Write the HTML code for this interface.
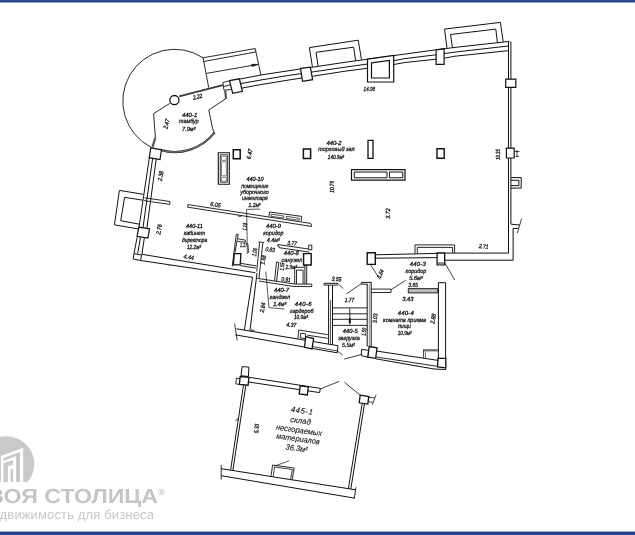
<!DOCTYPE html>
<html><head><meta charset="utf-8"><title>plan</title>
<style>
html,body{margin:0;padding:0;background:#fff;}
body{width:635px;height:535px;overflow:hidden;position:relative;font-family:"Liberation Sans",sans-serif;}
svg{position:absolute;left:0;top:0;filter:grayscale(1);}
svg text{text-rendering:geometricPrecision;font-family:"Liberation Sans",sans-serif;font-style:italic;text-anchor:middle;dominant-baseline:central;stroke:#151515;stroke-width:3.0px;}
svg text.logo{font-style:normal;text-anchor:start;dominant-baseline:alphabetic;stroke:none;}
.bt{position:absolute;left:0;top:0;width:635px;height:3.4px;background:linear-gradient(to bottom,#2d5297 0%,#21427f 65%,#ffffff 100%);}
.bb{position:absolute;left:0;top:531px;width:635px;height:4px;background:linear-gradient(to bottom,#ffffff 0%,#1f3d7b 30%,#2d5297 100%);}
</style></head><body>
<svg width="635" height="535" viewBox="0 0 635 535">
<g id="logo">
<clipPath id="lc"><rect x="-5" y="430" width="60" height="52.2"/></clipPath>
<circle cx="6.6" cy="464" r="27.7" fill="#c9c9c9" clip-path="url(#lc)"/>
<polygon points="0.9,455.9 23.2,447.8 23.2,482.5 0.9,482.5" fill="#fff"/>
<polygon points="3.5,458 20,451.9 20,482.5 16.1,482.5 16.1,455.9 3.5,460.9" fill="#c9c9c9"/>
<polygon points="3.7,463 13,460.1 13,464.4 7.9,466.2 7.9,482.5 3.5,482.5 3.5,463" fill="#c9c9c9"/>
<rect x="10.6" y="469.1" width="2.4" height="13.4" fill="#c9c9c9"/>
<rect x="-5" y="482.1" width="45" height="4" fill="#fff"/>
<text class="logo" x="0" y="0" font-size="20.3" font-weight="bold" fill="#c5c5c5" transform="translate(-12.5 502.8) scale(1.14 1)">ВОЯ СТОЛИЦА</text>
<text class="logo" x="158.3" y="494.8" font-size="8.8" font-weight="bold" fill="#c8c8c8">®</text>
<text class="logo" x="-0.4" y="518.5" font-size="13" fill="#c6c6c6" letter-spacing="0.14">движимость для бизнеса</text>
</g>
<polyline points="239.2,79.2 262,74.8 285,71.3 345,62.3 367.5,59.2 393.7,55.6 436,49.8 455,47.4 509.5,41.4" fill="none" stroke="#111" stroke-width="1" />
<polyline points="240.5,83.6 262,79.8 285,76 345,67.2 367.5,64 393.7,60.7 405,58.6 436,54.8 444,53.6 455,52.1 508.3,46" fill="none" stroke="#111" stroke-width="1" />
<polyline points="242,88.1 262,84.4 285,80.6 345,71.2 367.5,68.3 393.7,64.5 405,62.5 436,59.2 444,58.2 455,56.2 508.3,50.7" fill="none" stroke="#111" stroke-width="1" />
<polyline points="312.4,66.9 309.4,47.6 358.2,40.2 361.5,59.6" fill="none" stroke="#111" stroke-width="1" />
<polyline points="318.1,65.9 316,52.3 353.7,47.2 355.6,60.7" fill="none" stroke="#111" stroke-width="1" />
<polyline points="447,48.3 444.5,29.1 500.4,22.4 503.2,41.8" fill="none" stroke="#111" stroke-width="1" />
<polyline points="452.4,47.5 450.5,34.5 495.8,29.1 497.4,42.6" fill="none" stroke="#111" stroke-width="1" />
<polygon points="229.5,80.6 239.3,78.8 242.4,91.4 232.7,93.4" fill="#fff" stroke="#111" stroke-width="1.2"/>
<polygon points="300.6,68.4 310.3,67.2 312.6,79.7 302.5,81.4" fill="#fff" stroke="#111" stroke-width="1.2"/>
<polygon points="367.5,59.2 393.7,55.5 393.7,82 367.5,82" fill="#fff" stroke="#111" stroke-width="1.2"/>
<polygon points="371.5,62.9 389.4,60.4 389.4,78 371.5,78" fill="#fff" stroke="#111" stroke-width="1.2"/>
<polygon points="436.1,49.8 444.1,48.8 444.1,64.4 436.1,64.4" fill="#fff" stroke="#111" stroke-width="1.2"/>
<polyline points="508.5,41.6 508.5,253.2" fill="none" stroke="#111" stroke-width="1" />
<polyline points="510.9,41.6 510.9,224" fill="none" stroke="#111" stroke-width="1" />
<polyline points="510.9,224.2 519.8,225" fill="none" stroke="#111" stroke-width="1" />
<polyline points="521.6,218.6 517.4,233" fill="none" stroke="#111" stroke-width="0.8" />
<polyline points="518.5,228.4 513.1,228.4 513.1,260.2 444.8,260.2" fill="none" stroke="#111" stroke-width="1" />
<polyline points="508.5,253.1 444.7,253.1" fill="none" stroke="#111" stroke-width="1" />
<polygon points="505.7,79.1 515.8,79.1 515.8,87.4 505.7,87.4" fill="#fff" stroke="#111" stroke-width="1.2"/>
<polygon points="506.4,148.2 514.2,148.2 514.2,158 506.4,158" fill="#fff" stroke="#111" stroke-width="1.2"/>
<polyline points="514.2,151.5 519.5,151.5" fill="none" stroke="#111" stroke-width="0.8" />
<polyline points="517,150 517,156.5" fill="none" stroke="#111" stroke-width="0.8" />
<polyline points="515.5,156.5 519,156.5" fill="none" stroke="#111" stroke-width="0.8" />
<polyline points="510.9,177.6 521.2,177.6 521.2,188.1 510.9,188.1" fill="none" stroke="#111" stroke-width="1" />
<polyline points="510.9,180.3 518.9,180.3 518.9,185.6 510.9,185.6" fill="none" stroke="#111" stroke-width="1" />
<polyline points="208.7,87.6 203.1,57.8 255.2,48.5 260.9,75.1" fill="none" stroke="#111" stroke-width="0.9" />
<polyline points="203.6,61.5 256.3,51.9" fill="none" stroke="#111" stroke-width="0.9" />
<polyline points="206.4,73.4 258,64.4" fill="none" stroke="#111" stroke-width="0.9" />
<polygon points="258,64.4 251.6,64.2 252.1,66.6" fill="#111" stroke="#111" stroke-width="0.5"/>
<path d="M203.08,57.83 A51.8,51.8 0 1 0 151.24,147.33" fill="none" stroke="#111" stroke-width="0.9"/>
<path d="M160.09,149.89 A50.9,50.9 0 0 0 214.72,132.42" fill="none" stroke="#333" stroke-width="2.2"/>
<path d="M160.09,149.89 A50.9,50.9 0 0 0 214.72,132.42" fill="none" stroke="#aaa" stroke-width="0.6"/>
<circle cx="174.4" cy="100.1" r="4.6" fill="#fff" stroke="#111" stroke-width="1.3"/>
<polyline points="179.2,96.4 222.8,85.2" fill="none" stroke="#3a3a3a" stroke-width="1.9" />
<polyline points="229.7,80.8 222.9,82.5 224,90.3 232,89.3" fill="none" stroke="#111" stroke-width="0.9" />
<polyline points="223.4,86.5 230.8,84.8" fill="none" stroke="#111" stroke-width="0.9" />
<polyline points="225.3,90.5 226,98.8" fill="none" stroke="#555" stroke-width="2.2" />
<polyline points="225.6,98.8 208.8,110 212.5,128 214,132.5" fill="none" stroke="#111" stroke-width="0.9" />
<polyline points="169.8,103.4 153.6,113.6 155.4,137.6" fill="none" stroke="#111" stroke-width="0.9" />
<polyline points="155.4,137.6 152.4,147.4" fill="none" stroke="#555" stroke-width="2.2" />
<polygon points="150.8,147.9 161.5,149.8 160,159.6 149.2,157.7" fill="#fff" stroke="#111" stroke-width="1.2"/>
<polyline points="149.3,158 139,227.2" fill="none" stroke="#111" stroke-width="1" />
<polyline points="152.6,158.6 143,227.7" fill="none" stroke="#111" stroke-width="1" />
<polyline points="156.2,159.2 146.9,228.1" fill="none" stroke="#111" stroke-width="1" />
<polyline points="137.1,237.3 134,253.7" fill="none" stroke="#111" stroke-width="1" />
<polyline points="140.3,238 137.7,253.7" fill="none" stroke="#111" stroke-width="1" />
<polyline points="144.3,238.2 141.9,254.3" fill="none" stroke="#111" stroke-width="1" />
<polyline points="143.4,194.3 119.4,190.4 114.4,224.9 138.8,229" fill="none" stroke="#111" stroke-width="1" />
<polyline points="143,200.2 124.6,197.3 120.7,220.7 139.3,224.2" fill="none" stroke="#111" stroke-width="1" />
<polygon points="138.8,227.2 149.5,228.8 147.9,238 137.1,236.4" fill="#fff" stroke="#111" stroke-width="1.2"/>
<polygon points="134,253.7 141.6,255 140.6,260.5 133.1,258.9" fill="#fff" stroke="#111" stroke-width="1"/>
<polyline points="144.5,197.8 170,201.5 169.7,204.4 144,200.6" fill="none" stroke="#111" stroke-width="0.9" />
<polyline points="141.9,254.3 185,261.4 255.3,272.7" fill="none" stroke="#111" stroke-width="1" />
<polyline points="140.6,260.5 185,267.1 252.6,277.3" fill="none" stroke="#111" stroke-width="1" />
<polyline points="167.8,264.9 171.6,265.4" fill="none" stroke="#666" stroke-width="1.2" />
<polyline points="252.6,277.3 244.3,330.1" fill="none" stroke="#111" stroke-width="1" />
<polyline points="257,273 249.9,331" fill="none" stroke="#111" stroke-width="1" />
<polyline points="310.6,223.4 187.9,204.6 187.6,207.2 310,226.2" fill="none" stroke="#111" stroke-width="0.9" />
<polyline points="310.6,223.4 311.6,225 311.2,226.8 310,226.2" fill="none" stroke="#111" stroke-width="0.9" />
<polyline points="238.4,214.9 238.6,216.3 240.8,216.6 240.9,215.3" fill="none" stroke="#111" stroke-width="0.7" />
<polyline points="268.9,216.7 269.6,212 301.7,216.4 301.1,221.3" fill="none" stroke="#111" stroke-width="0.9" />
<polyline points="271.3,214.2 283.8,216 283.6,218 271.1,216.3 271.3,214.2" fill="none" stroke="#111" stroke-width="0.7" />
<polyline points="286.5,216.3 299.3,218.2 299.1,220.2 286.3,218.4 286.5,216.3" fill="none" stroke="#111" stroke-width="0.7" />
<polyline points="260.2,209.1 246.6,209.4 247.4,253.9" fill="none" stroke="#111" stroke-width="0.7" />
<polyline points="248,244 248.7,253" fill="none" stroke="#111" stroke-width="0.7" />
<polygon points="218.3,152.8 229.3,152.8 229.3,184.2 218.3,184.2" fill="#fff" stroke="#111" stroke-width="1.1"/>
<polygon points="220.3,154.8 227.4,154.8 227.4,182.2 220.3,182.2" fill="#fff" stroke="#222" stroke-width="0.9"/>
<polygon points="221.5,156.2 226.3,156.2 226.3,160.4 221.5,160.4" fill="#fff" stroke="#666" stroke-width="0.8"/>
<polygon points="221.5,161.8 226.3,161.8 226.3,175.8 221.5,175.8" fill="#fff" stroke="#666" stroke-width="0.8"/>
<polygon points="221.5,177.3 226.3,177.3 226.3,181.2 221.5,181.2" fill="#fff" stroke="#666" stroke-width="0.8"/>
<polygon points="233.3,149.8 240.2,149.8 240.2,158.8 233.3,158.8" fill="#fff" stroke="#111" stroke-width="1.5"/>
<polygon points="303.4,149 310.6,149 310.6,158.6 303.4,158.6" fill="#fff" stroke="#111" stroke-width="1.5"/>
<polygon points="437,148.8 444.2,148.8 444.2,158.2 437,158.2" fill="#fff" stroke="#111" stroke-width="1.4"/>
<polygon points="368,140.3 373,140.3 373,158.3 368,158.3" fill="#fff" stroke="#111" stroke-width="1.3"/>
<polygon points="351.5,169.6 405,169.6 405,180.1 351.5,180.1" fill="#fff" stroke="#111" stroke-width="1.2"/>
<polygon points="354.3,172 387,172 387,177.8 354.3,177.8" fill="#fff" stroke="#111" stroke-width="1"/>
<polygon points="389.4,172 402.8,172 402.8,177.8 389.4,177.8" fill="#fff" stroke="#111" stroke-width="1"/>
<polyline points="232.2,266.5 236.3,234.3 238.2,234.3 235,252.6" fill="none" stroke="#111" stroke-width="0.9" />
<polyline points="238.2,238.8 245.4,240.2" fill="none" stroke="#111" stroke-width="0.9" />
<polyline points="237.6,241.4 245.2,242.3" fill="none" stroke="#111" stroke-width="0.9" />
<polyline points="245.4,240.2 245.2,242.3" fill="none" stroke="#111" stroke-width="0.9" />
<polygon points="234.3,253.7 240.9,253.7 240.2,264.9 233.4,264.9" fill="#fff" stroke="#111" stroke-width="1.3"/>
<polyline points="240.9,263.4 256.4,265.9" fill="none" stroke="#111" stroke-width="0.9" />
<polyline points="240.5,265.6 255.9,268.1" fill="none" stroke="#111" stroke-width="0.9" />
<polyline points="256.7,271.5 259.5,243.1 258.9,241.9 263.9,242.5 262.7,243.8 258.9,279" fill="none" stroke="#111" stroke-width="0.9" />
<polyline points="257.2,278.4 295.4,284.1 311.8,284.1" fill="none" stroke="#111" stroke-width="0.9" />
<polyline points="258.9,281 292.9,286.4 311.8,286.6" fill="none" stroke="#111" stroke-width="0.9" />
<polyline points="311.8,284.1 311.8,286.6" fill="none" stroke="#111" stroke-width="0.9" />
<polyline points="274.6,280.9 276.5,262 278.8,262.5 276.6,281.4" fill="none" stroke="#111" stroke-width="0.9" />
<polyline points="311.8,249.5 277.8,244.5 277.8,246.2 279.2,246.4 279.2,247.7 308.7,252" fill="none" stroke="#111" stroke-width="0.9" />
<polygon points="308.7,245.1 311.8,245.1 311.8,249.8 308.7,249.8" fill="#fff" stroke="#111" stroke-width="0.9"/>
<polygon points="303.6,253.6 311.2,253.6 311.2,265 303.6,265" fill="#fff" stroke="#111" stroke-width="1.4"/>
<polyline points="304.9,265 304.9,284.1" fill="none" stroke="#111" stroke-width="0.9" />
<polyline points="306.7,265 306.7,284.1" fill="none" stroke="#111" stroke-width="0.9" />
<polyline points="294.7,284 294.7,267.3 304.9,267.3" fill="none" stroke="#111" stroke-width="0.9" />
<polyline points="296.5,284 296.5,270.1 303.1,270.1 303.1,284" fill="none" stroke="#111" stroke-width="0.9" />
<polyline points="308.7,251.9 309.6,253.6" fill="none" stroke="#111" stroke-width="0.9" />
<polyline points="265.8,271.5 269,307.7 284.5,309" fill="none" stroke="#111" stroke-width="0.7" />
<polyline points="236.4,328.8 338,345.7 337.2,352.8" fill="none" stroke="#111" stroke-width="1" />
<polyline points="235.3,334.8 337.2,352.8" fill="none" stroke="#111" stroke-width="1" />
<polyline points="313.2,346.7 337.8,351" fill="none" stroke="#111" stroke-width="0.8" />
<polyline points="234.6,323.6 237.2,340.4" fill="none" stroke="#111" stroke-width="0.8" />
<polyline points="250,329.8 254.6,330.8" fill="none" stroke="#666" stroke-width="1.6" />
<polyline points="297.9,338.6 298.7,330 327.8,334.7" fill="none" stroke="#111" stroke-width="0.9" />
<polyline points="307.3,335.2 327.8,338.3" fill="none" stroke="#111" stroke-width="0.9" />
<polygon points="300.7,333.1 305.7,333.9 305.2,338.6 300.2,337.8" fill="#fff" stroke="#111" stroke-width="0.9"/>
<polygon points="305.7,336.7 313.6,338.6 312,348.9 304.5,347.3" fill="#fff" stroke="#111" stroke-width="1.3"/>
<polyline points="324,283.3 338,283.3" fill="none" stroke="#111" stroke-width="1" />
<polyline points="324,285.1 338,285.1" fill="none" stroke="#111" stroke-width="0.9" />
<polyline points="324,283.3 324,285.1" fill="none" stroke="#111" stroke-width="0.9" />
<polyline points="328.6,285.1 328.6,343.8" fill="none" stroke="#111" stroke-width="1" />
<polyline points="332.5,285.1 332.5,344.5" fill="none" stroke="#111" stroke-width="1" />
<polyline points="330.5,300 330.5,344.2" fill="none" stroke="#111" stroke-width="0.7" />
<polyline points="338,283.6 343.3,288.7" fill="none" stroke="#111" stroke-width="0.8" />
<polyline points="361.4,282.4 371.2,282.4" fill="none" stroke="#111" stroke-width="1" />
<polyline points="361.4,284.2 367.2,284.2" fill="none" stroke="#111" stroke-width="0.9" />
<polyline points="361.4,282.4 361.4,284.2" fill="none" stroke="#111" stroke-width="0.9" />
<polyline points="367.2,283.9 367.2,346.5" fill="none" stroke="#111" stroke-width="1" />
<polyline points="371.2,282.3 371.2,346.7" fill="none" stroke="#111" stroke-width="1" />
<polyline points="369.3,284 369.3,346.5" fill="none" stroke="#444" stroke-width="0.6" />
<polyline points="361.4,283.6 346.4,293.9" fill="none" stroke="#111" stroke-width="0.8" />
<polyline points="332.4,307.9 367,307.9" fill="none" stroke="#111" stroke-width="0.9" />
<polyline points="332.4,313.8 367,313.8" fill="none" stroke="#111" stroke-width="0.9" />
<polyline points="332.4,319.3 367,319.3" fill="none" stroke="#111" stroke-width="0.9" />
<polyline points="332.4,325.4 367,325.4" fill="none" stroke="#111" stroke-width="0.9" />
<polyline points="349.8,308.3 349.8,324.6" fill="none" stroke="#111" stroke-width="0.9" />
<polyline points="349.8,318.2 349.8,323" fill="none" stroke="#111" stroke-width="2" />
<polyline points="338,351.5 342.8,355.2" fill="none" stroke="#111" stroke-width="0.8" />
<polyline points="344.3,359.1 361.7,354.4" fill="none" stroke="#111" stroke-width="0.8" />
<polyline points="371.3,289.1 391,289.1" fill="none" stroke="#111" stroke-width="0.9" />
<polyline points="371.3,292.5 391,292.5 391,289.1" fill="none" stroke="#111" stroke-width="0.9" />
<polyline points="391,289.7 405.6,280.4" fill="none" stroke="#111" stroke-width="0.8" />
<polygon points="367.2,252.8 375.3,252.8 375.3,264.4 367.2,264.4" fill="#fff" stroke="#111" stroke-width="1.4"/>
<polyline points="370.7,265 380.1,279.5" fill="none" stroke="#111" stroke-width="0.8" />
<polyline points="375.3,254.8 437.3,253.4" fill="none" stroke="#111" stroke-width="1" />
<polyline points="375.3,258.2 437.3,257.6" fill="none" stroke="#111" stroke-width="1" />
<polyline points="415,253.6 415,244.9 454.6,244.9 454.6,253.1" fill="none" stroke="#111" stroke-width="0.9" />
<polyline points="417.3,253.6 417.3,247.4 452.6,247.4 452.6,253.1" fill="none" stroke="#111" stroke-width="0.9" />
<polygon points="437.1,253 444.7,253 444.7,264.8 437.1,264.8" fill="#fff" stroke="#111" stroke-width="1.3"/>
<polyline points="437.8,263.4 444.2,263.4" fill="none" stroke="#888" stroke-width="2.4" />
<polyline points="445,263.2 454.7,280" fill="none" stroke="#111" stroke-width="0.8" />
<polygon points="408.3,288.6 437.8,288.6 437.8,292.9 408.3,292.9" fill="#bbb" stroke="#111" stroke-width="0.9"/>
<polyline points="438.4,358.3 438.4,282.7 445.6,282.7 445.6,369.3" fill="none" stroke="#111" stroke-width="1" />
<polygon points="361.6,349.3 368.7,350.4 367.9,357.2 361.3,355.6" fill="#fff" stroke="#111" stroke-width="1"/>
<polygon points="369.1,346.5 377,347.8 375.7,358.3 367.9,357.2" fill="#fff" stroke="#111" stroke-width="1.3"/>
<polyline points="377,351.1 438,360.4" fill="none" stroke="#111" stroke-width="1" />
<polyline points="376.3,357 437.4,366.3" fill="none" stroke="#111" stroke-width="0.9" />
<polyline points="375.7,358.8 434,369 445.8,369.5" fill="none" stroke="#111" stroke-width="1" />
<polygon points="438,358.3 445.8,358.3 445.8,367.8 437.5,367" fill="#fff" stroke="#111" stroke-width="1.3"/>
<polyline points="423,350.3 438,350.3" fill="none" stroke="#6a6a6a" stroke-width="2.2" />
<polyline points="423.5,349.6 423.5,358" fill="none" stroke="#333" stroke-width="0.9" />
<polyline points="425.4,351.4 425.4,358.3" fill="none" stroke="#555" stroke-width="0.9" />
<polygon points="242.1,366.6 248.9,367.1 248.4,376.5 241,375.7" fill="#fff" stroke="#111" stroke-width="1"/>
<polygon points="236.3,378.1 240.2,378.6 239.4,384.4 235.8,383.9" fill="#fff" stroke="#111" stroke-width="0.9"/>
<polyline points="248.9,377.3 320.4,388.4 319.6,392.6" fill="none" stroke="#111" stroke-width="1" />
<polyline points="248.4,382 319.6,392.6" fill="none" stroke="#111" stroke-width="1" />
<polygon points="240.2,376.5 248.9,377.3 248.1,385.2 239.4,384.4" fill="#fff" stroke="#111" stroke-width="1.3"/>
<polygon points="300.2,385.8 308.3,386.9 307.3,395 299.2,394" fill="#fff" stroke="#111" stroke-width="1.3"/>
<polyline points="243.5,385.2 230.6,470.1" fill="none" stroke="#111" stroke-width="1" />
<polyline points="245.8,385.5 232.9,470.1" fill="none" stroke="#111" stroke-width="1" />
<polyline points="235.6,421.3 237.2,418.7 238.7,421" fill="none" stroke="#111" stroke-width="0.7" />
<polyline points="221.2,468.7 355.7,489.8" fill="none" stroke="#111" stroke-width="1" />
<polyline points="221.2,475.7 354.4,498.1" fill="none" stroke="#111" stroke-width="1" />
<polyline points="221.2,465 221.2,479.4" fill="none" stroke="#111" stroke-width="0.9" />
<polyline points="355.9,487.3 354.3,498.8" fill="none" stroke="#111" stroke-width="0.9" />
<polyline points="271,476.3 272.6,465 294.2,468 292.2,479.4" fill="none" stroke="#111" stroke-width="0.9" />
<polyline points="273.2,476.6 274.6,467 292.4,469.5 290.6,479.2" fill="none" stroke="#111" stroke-width="0.8" />
<polyline points="274.7,466 289.1,460.8" fill="none" stroke="#111" stroke-width="0.7" />
<polyline points="320.4,388.9 339.3,381.4" fill="none" stroke="#111" stroke-width="0.8" />
<polyline points="344.3,382.1 360.2,395.2" fill="none" stroke="#111" stroke-width="0.8" />
<polygon points="360.2,395.2 368.8,396.5 367.8,404.1 359.2,402.8" fill="#fff" stroke="#111" stroke-width="1.3"/>
<polyline points="368.7,397.3 374.9,398" fill="none" stroke="#111" stroke-width="0.8" />
<polyline points="368.2,401.6 373,402.3" fill="none" stroke="#111" stroke-width="0.8" />
<polyline points="376.1,394.7 372.3,404.7" fill="none" stroke="#111" stroke-width="0.8" />
<polyline points="362.2,403.5 348.4,488.6" fill="none" stroke="#111" stroke-width="1" />
<polyline points="364.5,403.8 350.8,489" fill="none" stroke="#111" stroke-width="1" />
<g fill="#151515">
<text x="0" y="0" font-size="60" transform="translate(197.6 96.7) rotate(-14) scale(0.0822 0.1)">2.22</text>
<text x="0" y="0" font-size="60" transform="translate(166.5 124) rotate(-75) scale(0.0856 0.1)">2.47</text>
<text x="0" y="0" font-size="60" transform="translate(189.6 114.9) scale(0.0997 0.1)">440-1</text>
<text x="0" y="0" font-size="60" transform="translate(188.9 121.2) scale(0.0892 0.1)">тамбур</text>
<text x="0" y="0" font-size="60" transform="translate(188.8 129.2) scale(0.0934 0.1)">7.9м²</text>
<text x="0" y="0" font-size="60" transform="translate(160.5 176) rotate(-80) scale(0.0839 0.1)">2.38</text>
<text x="0" y="0" font-size="60" transform="translate(159.2 229.4) rotate(-80) scale(0.0882 0.1)">2.76</text>
<text x="0" y="0" font-size="60" transform="translate(188.7 257) rotate(9) scale(0.0899 0.1)">4.44</text>
<text x="0" y="0" font-size="60" transform="translate(194.4 226.3) scale(0.0921 0.1)">440-11</text>
<text x="0" y="0" font-size="60" transform="translate(194.4 233.3) scale(0.0875 0.1)">кабинет</text>
<text x="0" y="0" font-size="60" transform="translate(194.6 239.8) scale(0.0808 0.1)">директора</text>
<text x="0" y="0" font-size="60" transform="translate(194 247) scale(0.0798 0.1)">12.2м²</text>
<text x="0" y="0" font-size="60" transform="translate(215.5 204.6) rotate(9) scale(0.0891 0.1)">6.05</text>
<text x="0" y="0" font-size="60" transform="translate(249.5 154) rotate(-80) scale(0.0882 0.1)">6.47</text>
<text x="0" y="0" font-size="60" transform="translate(255 179) scale(0.0921 0.1)">440-10</text>
<text x="0" y="0" font-size="60" transform="translate(254.7 185.8) scale(0.0834 0.1)">помещение</text>
<text x="0" y="0" font-size="60" transform="translate(254.5 192) scale(0.0888 0.1)">уборочного</text>
<text x="0" y="0" font-size="60" transform="translate(254.8 198) scale(0.0829 0.1)">инвентаря</text>
<text x="0" y="0" font-size="60" transform="translate(254.5 205.4) scale(0.0830 0.1)">1.2м²</text>
<text x="0" y="0" font-size="60" transform="translate(369.3 89.2) scale(0.0759 0.1)">14.96</text>
<text x="0" y="0" font-size="60" transform="translate(334 143.2) scale(0.0984 0.1)">440-2</text>
<text x="0" y="0" font-size="60" transform="translate(336.4 149.3) scale(0.0916 0.1)">торговый зал</text>
<text x="0" y="0" font-size="60" transform="translate(336 157) scale(0.0772 0.1)">140.9м²</text>
<text x="0" y="0" font-size="60" transform="translate(332.2 186.8) rotate(-90) scale(0.0786 0.1)">10.76</text>
<text x="0" y="0" font-size="60" transform="translate(388 213.5) rotate(-90) scale(0.0882 0.1)">3.72</text>
<text x="0" y="0" font-size="60" transform="translate(498.2 154.5) rotate(-90) scale(0.0699 0.1)">10.35</text>
<text x="0" y="0" font-size="60" transform="translate(483.6 246.4) rotate(5) scale(0.0822 0.1)">2.71</text>
<text x="0" y="0" font-size="60" transform="translate(273.4 226.2) scale(0.0977 0.1)">440-9</text>
<text x="0" y="0" font-size="60" transform="translate(273.4 233.1) scale(0.0885 0.1)">коридор</text>
<text x="0" y="0" font-size="60" transform="translate(273.3 239.7) scale(0.0913 0.1)">4.4м²</text>
<text x="0" y="0" font-size="60" transform="translate(292 243.3) rotate(8) scale(0.0814 0.1)">3.77</text>
<text x="0" y="0" font-size="60" transform="translate(270.2 249.5) rotate(8) scale(0.0805 0.1)">0.83</text>
<text x="0" y="0" font-size="60" transform="translate(244.8 226.7) rotate(-85) scale(0.0634 0.1)">1.18</text>
<text x="0" y="0" font-size="60" transform="translate(243.7 245.2) scale(0.0617 0.1)">1.27</text>
<text x="0" y="0" font-size="60" transform="translate(254.7 252) rotate(-80) scale(0.0702 0.1)">1.06</text>
<text x="0" y="0" font-size="60" transform="translate(263.4 259.8) rotate(-80) scale(0.0788 0.1)">1.68</text>
<text x="0" y="0" font-size="60" transform="translate(291.2 252.5) scale(0.0984 0.1)">440-8</text>
<text x="0" y="0" font-size="60" transform="translate(291.8 259.5) scale(0.0937 0.1)">санузел</text>
<text x="0" y="0" font-size="60" transform="translate(291.2 266.5) scale(0.0803 0.1)">2.9м²</text>
<text x="0" y="0" font-size="60" transform="translate(282 266.5) rotate(-85) scale(0.0642 0.1)">1.59</text>
<text x="0" y="0" font-size="60" transform="translate(286 279.5) rotate(5) scale(0.0805 0.1)">0.91</text>
<text x="0" y="0" font-size="60" transform="translate(281.5 290) scale(0.0990 0.1)">440-7</text>
<text x="0" y="0" font-size="60" transform="translate(279.8 297.4) scale(0.0928 0.1)">гандзел</text>
<text x="0" y="0" font-size="60" transform="translate(279.8 304.4) scale(0.0906 0.1)">1.4м²</text>
<text x="0" y="0" font-size="60" transform="translate(262.5 307.5) rotate(-80) scale(0.0831 0.1)">2.64</text>
<text x="1.82" y="0" font-size="60" letter-spacing="3.64" transform="translate(303.2 304) scale(0.1)">440-6</text>
<text x="0" y="0" font-size="60" transform="translate(301.8 310.8) scale(0.0895 0.1)">гардероб</text>
<text x="0" y="0" font-size="60" transform="translate(301 317.2) scale(0.0793 0.1)">10.9м²</text>
<text x="0" y="0" font-size="60" transform="translate(291.3 324.8) rotate(5) scale(0.0848 0.1)">4.37</text>
<text x="0" y="0" font-size="60" transform="translate(336.6 279.1) rotate(5) scale(0.0839 0.1)">3.55</text>
<text x="0" y="0" font-size="60" transform="translate(349.4 300) scale(0.0805 0.1)">1.77</text>
<text x="0" y="0" font-size="60" transform="translate(380.4 273.8) rotate(-65) scale(0.0745 0.1)">1.64</text>
<text x="0" y="0" font-size="60" transform="translate(375 318.3) rotate(-85) scale(0.0814 0.1)">3.03</text>
<text x="0" y="0" font-size="60" transform="translate(350.3 331.2) scale(0.0971 0.1)">440-5</text>
<text x="0" y="0" font-size="60" transform="translate(349 337.9) scale(0.0900 0.1)">загрузка</text>
<text x="0" y="0" font-size="60" transform="translate(348.4 344.6) scale(0.0879 0.1)">5.5м²</text>
<text x="0" y="0" font-size="60" transform="translate(363.9 331.8) rotate(-80) scale(0.0651 0.1)">1.50</text>
<text x="0.94" y="0" font-size="60" letter-spacing="1.89" transform="translate(417.8 263.8) scale(0.1)">440-3</text>
<text x="0" y="0" font-size="60" transform="translate(415.9 270.6) scale(0.0902 0.1)">коридор</text>
<text x="0" y="0" font-size="60" transform="translate(416 277.8) scale(0.0941 0.1)">5.6м²</text>
<text x="0" y="0" font-size="60" transform="translate(413.2 284.8) scale(0.0848 0.1)">3.65</text>
<text x="0" y="0" font-size="60" transform="translate(407.8 299) scale(0.0968 0.1)">3.43</text>
<text x="0.69" y="0" font-size="60" letter-spacing="1.39" transform="translate(405.8 313.3) scale(0.1)">440-4</text>
<text x="0" y="0" font-size="60" transform="translate(404.6 320.1) scale(0.0904 0.1)">комната приема</text>
<text x="0" y="0" font-size="60" transform="translate(404.4 326.2) scale(0.0855 0.1)">пищи</text>
<text x="0" y="0" font-size="60" transform="translate(404.6 333) scale(0.0776 0.1)">10.9м²</text>
<text x="0" y="0" font-size="60" transform="translate(433 318.7) rotate(-80) scale(0.0873 0.1)">2.88</text>
<text x="0" y="0" font-size="60" transform="translate(256.6 428.5) rotate(-85) scale(0.0796 0.1)">5.33</text>
<text style="stroke-width:1.2px" x="2.3" y="0" font-size="80" letter-spacing="4.60" transform="translate(301.9 410.7) rotate(8) scale(0.1)">445-1</text>
<text style="stroke-width:1.2px" x="0" y="0" font-size="80" transform="translate(300.6 420.6) rotate(8) scale(0.0974 0.1)">склад</text>
<text style="stroke-width:1.2px" x="0" y="0" font-size="80" transform="translate(299.1 430.1) rotate(8) scale(0.0936 0.1)">несгораемых</text>
<text style="stroke-width:1.2px" x="0" y="0" font-size="80" transform="translate(298 438.7) rotate(8) scale(0.0921 0.1)">материалов</text>
<text style="stroke-width:1.2px" x="0" y="0" font-size="80" transform="translate(296.7 448.2) rotate(8) scale(0.0936 0.1)">36.3м²</text>
</g>
</svg>
<div class="bt"></div><div class="bb"></div>
</body></html>
